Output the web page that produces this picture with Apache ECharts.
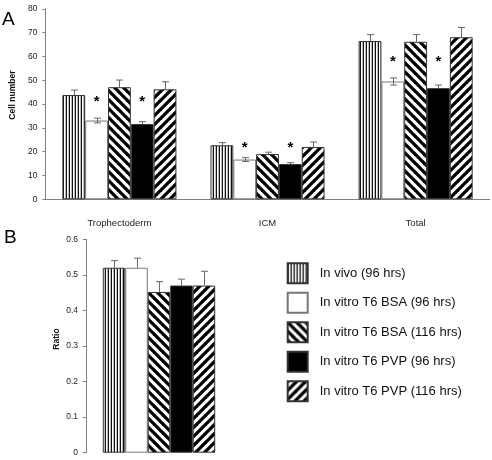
<!DOCTYPE html>
<html><head><meta charset="utf-8">
<script src="https://cdn.jsdelivr.net/npm/echarts@6/dist/echarts.min.js"></script>
<style>html,body{margin:0;padding:0;background:#fff}#c{width:492px;height:460px}</style>
</head><body><div id="c"></div>
<script>
// ---------- data ----------
const categories = ['Trophectoderm', 'ICM', 'Total'];
const seriesNames = ['In vivo (96 hrs)', 'In vitro T6 BSA (96 hrs)', 'In vitro T6 BSA (116 hrs)', 'In vitro T6 PVP (96 hrs)', 'In vitro T6 PVP (116 hrs)'];
const inVivo = [43.8, 22.7, 66.5];
const bsa96  = [33.1, 16.7, 49.5];
const bsa116 = [47.1, 19.0, 66.2];
const pvp96  = [31.6, 14.8, 46.7];
const pvp116 = [46.2, 22.0, 68.1];
const inVivoErr = [2.1, 1.1, 2.7];
const bsa96Err  = [1.0, 0.8, 1.5];
const bsa116Err = [3.0, 0.8, 3.0];
const pvp96Err  = [1.0, 0.6, 1.3];
const pvp116Err = [3.2, 2.1, 4.1];
const ratioValues = [0.52, 0.52, 0.452, 0.47, 0.47];
const ratioErrors = [0.02, 0.027, 0.029, 0.018, 0.04];
// significance stars: [categoryIndex, seriesIndex, y value]
const starMarks = [[0, 1, 42], [0, 3, 42], [1, 1, 22.7], [1, 3, 22.7], [2, 1, 59.2], [2, 3, 59.2]];
const cellTicks = [0, 10, 20, 30, 40, 50, 60, 70, 80];
const ratioTicks = [0, 0.1, 0.2, 0.3, 0.4, 0.5, 0.6];

const cellValues = [inVivo, bsa96, bsa116, pvp96, pvp116];
const cellErrors = [inVivoErr, bsa96Err, bsa116Err, pvp96Err, pvp116Err];

// ---------- patterns ----------
function vertPattern() {
  const c = document.createElement('canvas'); c.width = 3; c.height = 4;
  const g = c.getContext('2d');
  g.fillStyle = '#fff'; g.fillRect(0, 0, 3, 4);
  g.fillStyle = '#111'; g.fillRect(0, 0, 1, 4);
  g.fillStyle = '#bbb'; g.fillRect(2, 0, 1, 4);
  return { image: c, repeat: 'repeat' };
}
function diagPattern(back) {
  const p = 9;
  const c = document.createElement('canvas'); c.width = p; c.height = p;
  const g = c.getContext('2d');
  g.fillStyle = '#fff'; g.fillRect(0, 0, p, p);
  g.strokeStyle = '#000'; g.lineWidth = 3.3;
  for (let k = -2; k <= 2; k++) {
    g.beginPath();
    if (back) { g.moveTo(k * p - p, -p); g.lineTo(k * p + 2 * p, 2 * p); }
    else { g.moveTo(k * p - p, 2 * p); g.lineTo(k * p + 2 * p, -p); }
    g.stroke();
  }
  return { image: c, repeat: 'repeat' };
}
const fills = [vertPattern(), '#ffffff', diagPattern(true), '#000000', diagPattern(false)];
const borders = ['#333', '#777', '#333', '#333', '#333'];

const FONT = 'Liberation Sans, Arial, Helvetica, sans-serif';
const GAP = 0.23;
const axisGray = '#808080';

function barSeries(i, values, gi) {
  return {
    type: 'bar', name: seriesNames[i], xAxisIndex: gi, yAxisIndex: gi,
    data: values, barGap: 0, barCategoryGap: (GAP * 100) + '%',
    itemStyle: { color: fills[i], borderColor: borders[i], borderWidth: 1 },
    emphasis: { disabled: true }, z: 2
  };
}

function errorSeries(gi, items, lowerFor) {
  return {
    type: 'custom', xAxisIndex: gi, yAxisIndex: gi, z: 5, silent: true,
    encode: { x: 0, y: 2 }, data: items,
    renderItem: function (params, api) {
      const cat = api.value(0), s = api.value(1), v = api.value(2), e = api.value(3);
      const band = api.size([1, 0])[0];
      const bw = band * (1 - GAP) / 5;
      const base = api.coord([cat, v]);
      const x = Math.round(base[0] + (s - 2) * bw) + 0.5;
      const yTop = api.coord([cat, v + e])[1];
      const showLow = lowerFor.indexOf(s) >= 0;
      const yBot = showLow ? api.coord([cat, v - e])[1] : base[1];
      const st = { stroke: '#666', lineWidth: 1 };
      const ch = [
        { type: 'line', shape: { x1: x, y1: yTop, x2: x, y2: yBot }, style: st },
        { type: 'line', shape: { x1: x - 3.5, y1: yTop, x2: x + 3.5, y2: yTop }, style: st }
      ];
      if (showLow) ch.push({ type: 'line', shape: { x1: x - 3.5, y1: yBot, x2: x + 3.5, y2: yBot }, style: st });
      return { type: 'group', children: ch };
    }
  };
}

const cellErrItems = [];
cellValues.forEach((arr, s) => arr.forEach((v, c) => cellErrItems.push([c, s, v, cellErrors[s][c]])));
const ratioErrItems = ratioValues.map((v, s) => [0, s, v, ratioErrors[s]]);

const starSeries = {
  type: 'custom', xAxisIndex: 0, yAxisIndex: 0, z: 6, silent: true,
  encode: { x: 0, y: 2 }, data: starMarks,
  renderItem: function (params, api) {
    const cat = api.value(0), s = api.value(1), v = api.value(2);
    const bw = api.size([1, 0])[0] * (1 - GAP) / 5;
    const p = api.coord([cat, v]);
    return { type: 'text', x: p[0] + (s - 2) * bw, y: p[1] + 3,
      style: { text: '*', fontSize: 15, fontWeight: 'bold', fontFamily: FONT, fill: '#000', align: 'center', verticalAlign: 'middle' } };
  }
};

function yAxisCfg(gi, ticks, name, nameGap, margin, shift) {
  return {
    type: 'value', gridIndex: gi, min: ticks[0], max: ticks[ticks.length - 1], interval: ticks[1] - ticks[0],
    splitLine: { show: false },
    axisLine: { show: true, lineStyle: { color: axisGray, width: 1 } },
    axisTick: { show: true, length: 3, lineStyle: { color: axisGray } },
    axisLabel: { fontSize: 8.5, color: '#222', fontFamily: FONT, margin: margin },
    name: name, nameLocation: 'middle', nameGap: nameGap,
    nameTextStyle: { fontSize: 8.5, fontWeight: 'bold', color: '#111', fontFamily: FONT, padding: [0, 0, 0, shift] }
  };
}

const series = [];
cellValues.forEach((v, i) => series.push(barSeries(i, v, 0)));
ratioValues.forEach((v, i) => { const s = barSeries(i, [v], 1); series.push(s); });
series.push(errorSeries(0, cellErrItems, [1]));
series.push(errorSeries(1, ratioErrItems, []));
series.push(starSeries);

const option = {
  animation: false,
  backgroundColor: '#fff',
  textStyle: { fontFamily: FONT },
  grid: [
    { left: 42.3, right: 2.3, top: 8.9, height: 190.4 },
    { left: 86, width: 146, top: 239.3, height: 213.4 }
  ],
  xAxis: [
    { type: 'category', gridIndex: 0, data: categories,
      axisLine: { lineStyle: { color: axisGray } },
      axisTick: { length: 3, lineStyle: { color: axisGray } },
      axisLabel: { fontSize: 9.5, color: '#222', fontFamily: FONT, margin: 19 } },
    { type: 'category', gridIndex: 1, data: [''],
      axisLine: { show: false }, axisTick: { show: false }, axisLabel: { show: false } }
  ],
  yAxis: [yAxisCfg(0, cellTicks, 'Cell number', 25, 8, 18), yAxisCfg(1, ratioTicks, 'Ratio', 25, 8, 14)],
  legend: {
    data: seriesNames, orient: 'vertical', left: 281.7, top: 257.3,
    itemWidth: 20, itemHeight: 20, itemGap: 7.5, icon: 'rect', selectedMode: false,
    textStyle: { fontSize: 13, color: '#111', fontFamily: FONT, padding: [0, 0, 0, 7] }
  },
  graphic: [
    { type: 'text', left: 2, top: 10, style: { text: 'A', fontSize: 19, fill: '#000', fontFamily: FONT } },
    { type: 'text', left: 4, top: 228, style: { text: 'B', fontSize: 19, fill: '#000', fontFamily: FONT } }
  ],
  series: series
};
const chart = echarts.init(document.getElementById('c'), null, { renderer: 'canvas' });
chart.setOption(option);
</script></body></html>
